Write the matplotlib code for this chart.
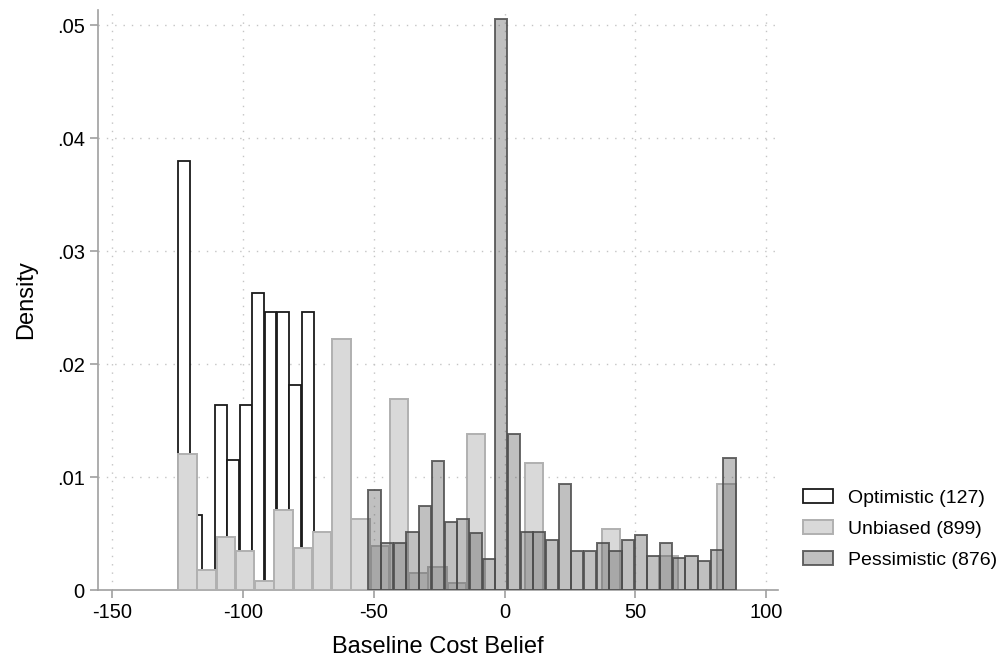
import numpy as np
import matplotlib
matplotlib.use("Agg")
import matplotlib.pyplot as plt
from matplotlib.patches import Patch

plt.rcParams['font.family'] = ['Liberation Sans', 'DejaVu Sans']
plt.rcParams['axes.unicode_minus'] = False

# bin ranges (data units) and bar heights (density)
opt_range = (-125.0, -73.0)
opt_density = [0.0380, 0.0066, 0.0017, 0.0164, 0.0115, 0.0164,
               0.0263, 0.0246, 0.0246, 0.0181, 0.0246]

unb_range = (-125.0, 88.4)
unb_density = [0.01206, 0.00177, 0.00465, 0.00347, 0.00076, 0.00706,
               0.00376, 0.00509, 0.02224, 0.00627, 0.00390, 0.01686,
               0.00148, 0.00206, 0.00059, 0.01383, 0.0, 0.0,
               0.01127, 0.0, 0.0, 0.0, 0.00537, 0.0,
               0.0, 0.00301, 0.0, 0.0, 0.00935]

pes_range = (-52.2, 88.4)
pes_density = [0.00885, 0.00413, 0.00413, 0.00513, 0.00743, 0.01142,
               0.00605, 0.00626, 0.00507, 0.00277, 0.0505, 0.01378,
               0.00510, 0.00513, 0.00442, 0.00935, 0.00345, 0.00345,
               0.00413, 0.00345, 0.00442, 0.00487, 0.00301, 0.00419,
               0.00280, 0.00301, 0.00257, 0.00351, 0.01170]

labels = ["Optimistic (127)", "Unbiased (899)", "Pessimistic (876)"]
xticks = [-150, -100, -50, 0, 50, 100]
yticks = [0, 0.01, 0.02, 0.03, 0.04, 0.05]
ytick_labels = ["0", ".01", ".02", ".03", ".04", ".05"]


def draw_hist(ax, rng, dens, **kw):
    edges = np.linspace(rng[0], rng[1], len(dens) + 1)
    w = edges[1] - edges[0]
    ax.bar(edges[:-1] + 0.02 * w, dens, width=0.96 * w, align='edge', **kw)


fig = plt.figure(figsize=(9.98, 6.63), dpi=100)
ax = fig.add_axes([98 / 998, 1 - 590 / 663, 680 / 998, 580 / 663])

opt_style = dict(facecolor='white', edgecolor='#1a1a1a', linewidth=1.3)
unb_style = dict(facecolor='#d9d9d9', edgecolor='#b0b0b0', linewidth=1.4)
pes_style = dict(facecolor=(0.33, 0.33, 0.33, 0.37),
                 edgecolor=(0.3, 0.3, 0.3, 0.85), linewidth=1.4)

draw_hist(ax, opt_range, opt_density, zorder=2, **opt_style)
draw_hist(ax, unb_range, unb_density, zorder=3, **unb_style)
draw_hist(ax, pes_range, pes_density, zorder=4, **pes_style)

ax.set_xlim(-155.5, 104.5)
ax.set_ylim(0, 0.05133)
ax.set_xticks(xticks)
ax.set_yticks(yticks)
ax.set_yticklabels(ytick_labels)

for v in xticks:
    ax.axvline(v, color='#c4c4c4', lw=1.0, ls=(0, (1, 5)), zorder=1)
for v in yticks[1:]:
    ax.axhline(v, color='#c4c4c4', lw=1.0, ls=(0, (1, 5)), zorder=1)

for s in ['top', 'right']:
    ax.spines[s].set_visible(False)
for s in ['left', 'bottom']:
    ax.spines[s].set_color('#a0a0a0')
    ax.spines[s].set_linewidth(1.2)
ax.tick_params(axis='both', colors='#a0a0a0', labelcolor='black',
               length=6, width=1.2, labelsize=14.5)

ax.set_xlabel("Baseline Cost Belief", fontsize=17, labelpad=10)
ax.set_ylabel("Density", fontsize=17, labelpad=14)

handles = [Patch(**opt_style), Patch(**unb_style), Patch(**pes_style)]
fig.legend(handles, labels, loc='center left',
           bbox_to_anchor=(803 / 998, 1 - 529 / 663), frameon=False,
           fontsize=14, handlelength=1.55, handleheight=0.7,
           handletextpad=0.75, labelspacing=0.68, borderpad=0,
           borderaxespad=0)

fig.savefig("out.png", dpi=100)
